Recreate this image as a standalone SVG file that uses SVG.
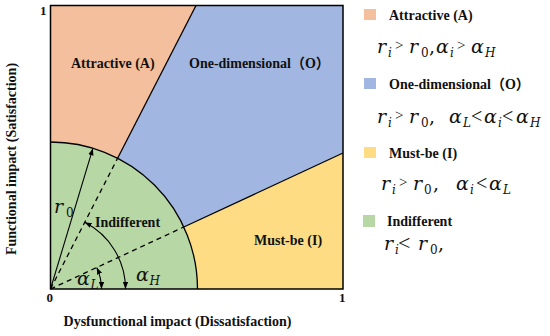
<svg xmlns="http://www.w3.org/2000/svg" width="550" height="336" viewBox="0 0 550 336">
<style>
.lbl{font-family:"Liberation Serif","Noto Sans CJK SC",serif;font-weight:bold;font-size:14px;fill:#111}
.ax{font-family:"Liberation Serif",serif;font-weight:bold;font-size:13px;fill:#111}
.m{font-family:"DejaVu Serif",serif;font-style:italic;font-size:19px;fill:#111}
.s{font-size:12px}
.u{font-style:normal}
.op{font-family:"Liberation Serif",serif;font-style:normal}
.edge{fill:none;stroke:#000;stroke-width:1.3}
.dash{fill:none;stroke:#000;stroke-width:1.3;stroke-dasharray:5 4}
.arr{fill:none;stroke:#000;stroke-width:1.1;marker-end:url(#ah)}
.arr2{fill:none;stroke:#000;stroke-width:1.1;marker-start:url(#ah);marker-end:url(#ah)}
</style>
<defs>
<marker id="ah" viewBox="0 0 8 6" refX="8" refY="3" markerWidth="7" markerHeight="5.5" markerUnits="userSpaceOnUse" orient="auto-start-reverse">
<path d="M0,0 L8,3 L0,6 Z" fill="#000"/>
</marker>
</defs>
<rect width="550" height="336" fill="#fff"/>
<g id="attractive">
<path d="M50.5,5.5 L196,5.5 L117.6,158.2 A147,147 0 0 0 50.5,142 Z" fill="#F4BF9C"/>
<text class="lbl" x="71" y="68">Attractive (A)</text>
</g>
<g id="one-dimensional">
<path d="M196,5.5 L343,5.5 L343,153 L183.8,227 A147,147 0 0 0 117.6,158.2 Z" fill="#A1B6E0"/>
<text class="lbl" x="189" y="68">One-dimensional（O）</text>
</g>
<g id="must-be">
<path d="M343,153 L343,289 L197.5,289 A147,147 0 0 0 183.8,227 Z" fill="#FEDC84"/>
<text class="lbl" x="254" y="245">Must-be (I)</text>
</g>
<g id="indifferent">
<path d="M50.5,289 L50.5,142 A147,147 0 0 1 197.5,289 Z" fill="#B7D7A4"/>
<text class="lbl" x="95" y="227">Indifferent</text>
</g>
<g id="connectors">
<path class="edge" d="M50.5,142 A147,147 0 0 1 197.5,289"/>
<path class="edge" d="M196,5.5 L117.6,158.2"/>
<path class="edge" d="M343,153 L183.8,227"/>
<path class="dash" d="M50.5,289 L117.6,158.2"/>
<path class="dash" d="M50.5,289 L183.8,227"/>
<path class="arr" d="M50.5,289 L92.9,148.4"/>
<path class="arr2" d="M84.7,222.3 A75,75 0 0 1 125.5,289"/>
<path class="arr2" d="M96.7,267.5 A51,51 0 0 1 101.5,289"/>
</g>
<g id="axes">
<rect x="50.5" y="5.5" width="292.5" height="283.5" fill="none" stroke="#000" stroke-width="1.5"/>
<text class="ax" x="40" y="15">1</text>
<text class="ax" x="46.5" y="302">0</text>
<text class="ax" x="339" y="302">1</text>
<text class="lbl" x="177.5" y="326" text-anchor="middle">Dysfunctional impact (Dissatisfaction)</text>
<text class="lbl" transform="translate(16,159) rotate(-90)" text-anchor="middle">Functional impact (Satisfaction)</text>
</g>
<g id="plot-symbols">
<text class="m" x="54" y="213">r<tspan class="s u" x="66" y="217">0</tspan></text>
<text class="m" x="77" y="285" font-size="18">α<tspan class="s" x="90.5" y="289">L</tspan></text>
<text class="m" x="136" y="281" font-size="18">α<tspan class="s" x="149.5" y="285">H</tspan></text>
</g>
<g id="legend-attractive">
<rect x="364" y="9" width="12" height="11" fill="#F4BF9C"/>
<text class="lbl" x="389" y="20">Attractive (A)</text>
<text class="m" x="377" y="53">r<tspan class="s" x="388" y="57">i</tspan><tspan class="op" x="395" y="50" font-size="15">&gt;</tspan><tspan x="409" y="53">r</tspan><tspan class="s u" x="421" y="57">0</tspan><tspan class="u" x="429" y="53">,</tspan><tspan x="436" y="53">α</tspan><tspan class="s" x="450" y="57">i</tspan><tspan class="op" x="457" y="50" font-size="15">&gt;</tspan><tspan x="471" y="53">α</tspan><tspan class="s" x="485" y="57">H</tspan></text>
</g>
<g id="legend-one-dimensional">
<rect x="364" y="78" width="12" height="11" fill="#A1B6E0"/>
<text class="lbl" x="389" y="89">One-dimensional（O）</text>
<text class="m" x="377" y="123">r<tspan class="s" x="388" y="127">i</tspan><tspan class="op" x="395" y="120" font-size="15">&gt;</tspan><tspan x="409" y="123">r</tspan><tspan class="s u" x="421" y="127">0</tspan><tspan class="u" x="429" y="123">,</tspan><tspan x="449" y="123">α</tspan><tspan class="s" x="463" y="127">L</tspan><tspan class="op" x="471" y="123" font-size="20">&lt;</tspan><tspan x="484" y="123">α</tspan><tspan class="s" x="498" y="127">i</tspan><tspan class="op" x="502" y="123" font-size="20">&lt;</tspan><tspan x="516" y="123">α</tspan><tspan class="s" x="530" y="127">H</tspan></text>
</g>
<g id="legend-must-be">
<rect x="364" y="147" width="12" height="11" fill="#FEDC84"/>
<text class="lbl" x="389" y="158">Must-be (I)</text>
<text class="m" x="381" y="190">r<tspan class="s" x="392" y="194">i</tspan><tspan class="op" x="399" y="187" font-size="15">&gt;</tspan><tspan x="413" y="190">r</tspan><tspan class="s u" x="424" y="194">0</tspan><tspan class="u" x="433" y="190">,</tspan><tspan x="456" y="190">α</tspan><tspan class="s" x="470" y="194">i</tspan><tspan class="op" x="476" y="190" font-size="20">&lt;</tspan><tspan x="489" y="190">α</tspan><tspan class="s" x="503" y="194">L</tspan></text>
</g>
<g id="legend-indifferent">
<rect x="363" y="215" width="12" height="12" fill="#B7D7A4"/>
<text class="lbl" x="387" y="226">Indifferent</text>
<text class="m" x="384" y="250">r<tspan class="s" x="395" y="254">i</tspan><tspan class="op" x="398" y="250" font-size="22">&lt;</tspan><tspan x="418" y="250">r</tspan><tspan class="s u" x="430" y="254">0</tspan><tspan class="u" x="438" y="250">,</tspan></text>
</g>
</svg>
